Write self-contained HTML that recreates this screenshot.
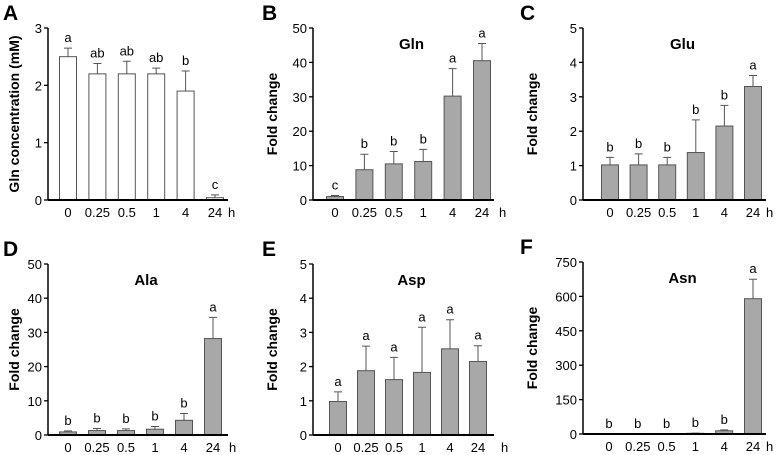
<!DOCTYPE html>
<html><head><meta charset="utf-8"><style>
html,body{margin:0;padding:0;background:#fff}
svg{display:block;font-family:"Liberation Sans",Arial,sans-serif}
</style></head><body>
<svg id="fig" width="778" height="455"></svg>
<script>
const categories = ["0","0.25","0.5","1","4","24"];
const aValues = [2.5,2.2,2.2,2.2,1.9,0.04];
const aErrors = [0.15,0.18,0.22,0.1,0.35,0.05];
const aLetters = ["a","ab","ab","ab","b","c"];
const aTicks = [0,1,2,3];
const bValues = [1,8.8,10.5,11.2,30.2,40.5];
const bErrors = [0.3,4.5,3.6,3.5,8,5];
const bLetters = ["c","b","b","b","a","a"];
const bTicks = [0,10,20,30,40,50];
const cValues = [1.02,1.02,1.02,1.38,2.15,3.3];
const cErrors = [0.22,0.32,0.22,0.95,0.6,0.32];
const cLetters = ["b","b","b","b","b","a"];
const cTicks = [0,1,2,3,4,5];
const dValues = [0.9,1.3,1.3,1.7,4.3,28.2];
const dErrors = [0.3,0.6,0.5,0.8,2,6.2];
const dLetters = ["b","b","b","b","b","a"];
const dTicks = [0,10,20,30,40,50];
const eValues = [0.98,1.88,1.62,1.83,2.52,2.15];
const eErrors = [0.28,0.72,0.65,1.32,0.85,0.46];
const eLetters = ["a","a","a","a","a","a"];
const eTicks = [0,1,2,3,4,5];
const fValues = [1,1,1,3,14,590];
const fErrors = [0,0,0,1,4,85];
const fLetters = ["b","b","b","b","b","a"];
const fTicks = [0,150,300,450,600,750];

const NS="http://www.w3.org/2000/svg";
const svg=document.getElementById('fig');
function mk(tag,attrs,parent,text){const e=document.createElementNS(NS,tag);for(const k in attrs)e.setAttribute(k,attrs[k]);if(text!==undefined)e.textContent=text;(parent||svg).appendChild(e);return e;}

function panel(p){
  const g=mk('g',{});
  
  
  const max=p.ticks[p.ticks.length-1];
  const y=v=>p.y0-(v/max)*(p.y0-p.yTop);
  const x=i=>p.x0+i*p.step;
  const lt=mk('text',{x:p.lx,y:p.yTop-8,'font-size':21,'font-weight':'bold'},g,p.id);
  
  
  if(p.title){const t=mk('text',{x:(p.ax+p.axEnd)/2+5,y:p.yTop+21,'font-size':15,'font-weight':'bold','text-anchor':'middle'},g,p.title);
    
    }
  const yt=mk('text',{transform:`translate(${p.tx},${(p.yTop+p.y0)/2}) rotate(-90)`,'font-size':14,'font-weight':'bold','text-anchor':'middle'},g,p.ylabel);
  
  
  p.values.forEach((v,i)=>{
    const cx=x(i),bw=17;
    const top=y(v);
    const r=mk('rect',{x:cx-bw/2,y:top,width:bw,height:Math.max(p.y0-top,0.5),fill:p.fill,stroke:'#555','stroke-width':1},g);
    
    
    const et=y(v+p.errors[i]);
    if(p.errors[i]>0){
      const e=mk('path',{d:`M${cx},${top}V${et}M${cx-4},${et}H${cx+4}`,stroke:'#555','stroke-width':1,fill:'none'},g);
      
      
    }
    const l=mk('text',{x:cx,y:Math.min(et,top)-6,'font-size':13,'text-anchor':'middle'},g,p.letters[i]);
    
    
    const tl=mk('text',{x:cx,y:p.y0+17,'font-size':13,'text-anchor':'middle'},g,categories[i]);
    
    
  });
  const h=mk('text',{x:p.hx,y:p.y0+17,'font-size':13},g,'h');
  
  
  p.ticks.forEach(t=>{
    const ty=y(t);
    mk('line',{x1:p.ax-4,x2:p.ax,y1:ty,y2:ty,stroke:'#000','stroke-width':1.3},g);
    const tt=mk('text',{x:p.ax-6,y:ty+5,'font-size':13,'text-anchor':'end'},g,String(t));
    
    
  });
  const ya=mk('line',{x1:p.ax,x2:p.ax,y1:p.yTop,y2:p.y0,stroke:'#000','stroke-width':1.5},g);
  
  
  const xa=mk('line',{x1:p.ax,x2:p.axEnd-6,y1:p.y0,y2:p.y0,stroke:'#000','stroke-width':2},g);
  
  
}
panel({id:'A',lx:3,tx:19,hx:228,ax:48,axEnd:234,yTop:28,y0:200,x0:68,step:29.4,values:aValues,errors:aErrors,letters:aLetters,ticks:aTicks,fill:'#fff',ylabel:'Gln concentration (mM)'});
panel({id:'B',lx:262,tx:277,hx:499,ax:313,axEnd:500,yTop:28,y0:200,x0:335,step:29.4,values:bValues,errors:bErrors,letters:bLetters,ticks:bTicks,fill:'#a8a8a8',ylabel:'Fold change',title:'Gln'});
panel({id:'C',lx:520,tx:537,hx:766,ax:583,axEnd:772,yTop:28,y0:200,x0:610,step:28.6,values:cValues,errors:cErrors,letters:cLetters,ticks:cTicks,fill:'#a8a8a8',ylabel:'Fold change',title:'Glu'});
panel({id:'D',lx:3,tx:19,hx:229,ax:48,axEnd:234,yTop:264,y0:435,x0:68,step:29,values:dValues,errors:dErrors,letters:dLetters,ticks:dTicks,fill:'#a8a8a8',ylabel:'Fold change',title:'Ala'});
panel({id:'E',lx:262,tx:277,hx:501,ax:313,axEnd:500,yTop:264,y0:435,x0:338,step:28,values:eValues,errors:eErrors,letters:eLetters,ticks:eTicks,fill:'#a8a8a8',ylabel:'Fold change',title:'Asp'});
panel({id:'F',lx:520,tx:537,hx:766,ax:583,axEnd:772,yTop:262,y0:434,x0:609,step:28.8,values:fValues,errors:fErrors,letters:fLetters,ticks:fTicks,fill:'#a8a8a8',ylabel:'Fold change',title:'Asn'});
</script>
</body></html>
